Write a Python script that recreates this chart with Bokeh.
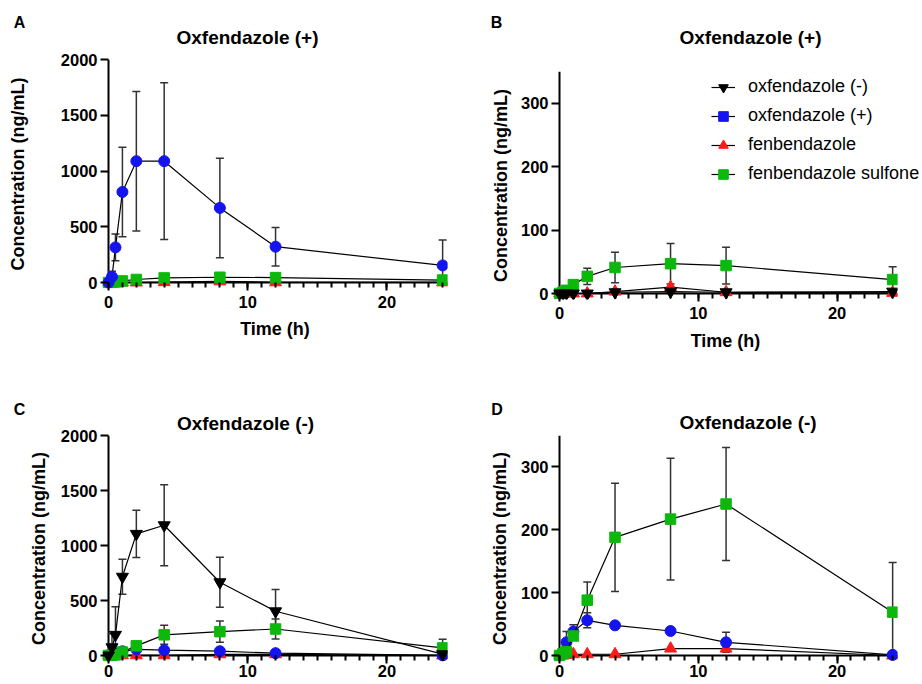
from bokeh.plotting import figure
from bokeh.models import (ColumnDataSource, Whisker, TeeHead, Span, Label, Legend,
                          LegendItem, FixedTicker, SingleIntervalTicker, Range1d)
from bokeh.layouts import column, row
from bokeh.embed import file_html
from bokeh.resources import INLINE

# ---------------- data ----------------
time_h = [0, 0.25, 0.5, 1, 2, 4, 8, 12, 24]

# Oxfendazole (+) administered  (panels A and B)
plus_oxf_plus_mean = [0, 51, 315, 812, 1088, 1088, 669, 321, 153]
plus_oxf_plus_sd = [0, 50, 120, 401, 626, 703, 446, 172, 228]
plus_oxf_minus_mean = [0, 0, 0, 0, 0, 2, 3, 2, 3]
plus_oxf_minus_sd = [0, 0, 0, 0, 0, 0, 0, 0, 0]
plus_fbz_mean = [0, 0, 0, 0, 0, 3, 10, 2, 1]
plus_fbz_sd = [0, 0, 0, 0, 0, 0, 0, 0, 0]
plus_fbzso2_mean = [0, 2, 5, 14, 27, 41, 47, 44, 22]
plus_fbzso2_sd = [0, 0, 0, 0, 13, 24, 32, 29, 20]

# Oxfendazole (-) administered  (panels C and D)
minus_oxf_minus_mean = [0, 75, 188, 716, 1106, 1184, 666, 402, 12]
minus_oxf_minus_sd = [0, 122, 255, 160, 214, 368, 227, 198, 0]
minus_oxf_plus_mean = [0, 3, 21, 38, 56, 48, 39, 21, 1]
minus_oxf_plus_sd = [0, 0, 17, 11, 12, 0, 0, 16, 0]
minus_fbz_mean = [0, 0, 1, 2, 2, 2, 11, 11, 0]
minus_fbz_sd = [0, 0, 0, 0, 0, 0, 0, 0, 0]
minus_fbzso2_mean = [0, 3, 6, 31, 88, 188, 217, 241, 69]
minus_fbzso2_sd = [0, 0, 0, 0, 29, 86, 97, 90, 79]

series_names = ["oxfendazole (-)", "oxfendazole (+)", "fenbendazole", "fenbendazole sulfone"]
y_ticks_full = [0, 500, 1000, 1500, 2000]
y_ticks_zoom = [0, 100, 200, 300]
y_max_full = 2000
y_max_zoom = 350
x_major_interval = 10
panel_titles = ["Oxfendazole (+)", "Oxfendazole (+)", "Oxfendazole (-)", "Oxfendazole (-)"]
panel_letters = ["A", "B", "C", "D"]
y_axis_label = "Concentration (ng/mL)"
x_axis_label = "Time (h)"

# ---------------- styling ----------------
FONT = "Liberation Sans"
PAD = 6          # px between the zero lines and the frame edges
X_END = 24.35    # right end of x axis (data units)
PAGE_W, PAGE_H = 922, 684

STYLE = {
    "oxfendazole (-)": dict(color="black", marker="inverted_triangle", size=12, legend_marker="inverted_triangle"),
    "oxfendazole (+)": dict(color="#1414ee", marker="circle", size=11, legend_marker="square"),
    "fenbendazole": dict(color="#ff1a1a", marker="triangle", size=12, legend_marker="triangle"),
    "fenbendazole sulfone": dict(color="#0cb80c", marker="square", size=10.5, legend_marker="square"),
}


def make_panel(size, borders, ymax, yticks, series, order, ylab_standoff,
               with_xlabel, xtick_standoff, xlab_standoff=5):
    w, h = size
    bl, br, bt, bb = borders
    frame_w = w - bl - br
    frame_h = h - bt - bb
    sx = (frame_w - PAD) / X_END
    sy = (frame_h - PAD) / ymax
    p = figure(width=w, height=h, min_border_left=bl, min_border_right=br,
               min_border_top=bt, min_border_bottom=bb,
               x_range=Range1d(-PAD / sx, X_END), y_range=Range1d(-PAD / sy, ymax),
               output_backend="svg", toolbar_location=None, tools="")
    p.outline_line_color = None
    p.grid.visible = False
    p.background_fill_color = "white"

    xa = p.xaxis[0]
    ya = p.yaxis[0]
    xa.ticker = SingleIntervalTicker(interval=x_major_interval, num_minor_ticks=10)
    ya.ticker = FixedTicker(ticks=yticks, minor_ticks=[])
    for ax in (xa, ya):
        ax.axis_line_color = None
        ax.major_tick_line_color = "black"
        ax.major_tick_line_width = 2
        ax.minor_tick_line_color = "black"
        ax.minor_tick_line_width = 2
        ax.major_tick_in = PAD
        ax.major_tick_out = 2
        ax.major_label_text_font = FONT
        ax.major_label_text_font_style = "bold"
        ax.major_label_text_font_size = "16.5px"
        ax.major_label_text_color = "black"
        ax.axis_label_text_font = FONT
        ax.axis_label_text_font_style = "bold"
        ax.axis_label_text_font_size = "18px"
        ax.axis_label_text_color = "black"
    xa.minor_tick_in = PAD
    xa.minor_tick_out = -1
    ya.minor_tick_line_color = None
    xa.major_label_standoff = xtick_standoff
    ya.major_label_standoff = 3
    ya.axis_label = y_axis_label
    ya.axis_label_standoff = ylab_standoff
    if with_xlabel:
        xa.axis_label = x_axis_label
        xa.axis_label_standoff = xlab_standoff

    p.add_layout(Span(location=0, dimension="width", line_color="black", line_width=2, level="underlay"))
    p.add_layout(Span(location=0, dimension="height", line_color="black", line_width=2, level="underlay"))

    for name in order:
        mean, sd = series[name]
        st = STYLE[name]
        xs = [t for t, s in zip(time_h, sd) if s > 0]
        hi = [m + s for m, s in zip(mean, sd) if s > 0]
        lo = [max(m - s, 0) for m, s in zip(mean, sd) if s > 0]
        if xs:
            wsrc = ColumnDataSource(dict(x=xs, lo=lo, hi=hi))
            p.add_layout(Whisker(source=wsrc, base="x", upper="hi", lower="lo", dimension="height",
                                 line_color="#333333", line_width=1.5,
                                 upper_head=TeeHead(size=8, line_color="#333333", line_width=1.5),
                                 lower_head=TeeHead(size=8, line_color="#333333", line_width=1.5)))
        src = ColumnDataSource(dict(x=time_h, y=mean))
        p.line("x", "y", source=src, line_color="black", line_width=1.2)
        p.scatter("x", "y", source=src, marker=st["marker"], size=st["size"],
                  fill_color=st["color"], line_color=st["color"])
    return p


plus_series = {
    "oxfendazole (-)": (plus_oxf_minus_mean, plus_oxf_minus_sd),
    "oxfendazole (+)": (plus_oxf_plus_mean, plus_oxf_plus_sd),
    "fenbendazole": (plus_fbz_mean, plus_fbz_sd),
    "fenbendazole sulfone": (plus_fbzso2_mean, plus_fbzso2_sd),
}
minus_series = {
    "oxfendazole (-)": (minus_oxf_minus_mean, minus_oxf_minus_sd),
    "oxfendazole (+)": (minus_oxf_plus_mean, minus_oxf_plus_sd),
    "fenbendazole": (minus_fbz_mean, minus_fbz_sd),
    "fenbendazole sulfone": (minus_fbzso2_mean, minus_fbzso2_sd),
}

pA = make_panel((461, 350), (102, 14, 59, 62), y_max_full, y_ticks_full, plus_series,
                ["fenbendazole", "fenbendazole sulfone", "oxfendazole (+)"], 30, True, 5, 8)
pB = make_panel((461, 355), (92, 25, 71, 56), y_max_zoom, y_ticks_zoom, plus_series,
                ["fenbendazole", "fenbendazole sulfone", "oxfendazole (-)"], 7, True, 5, 9)
pC = make_panel((461, 334), (102, 14, 85, 23), y_max_full, y_ticks_full, minus_series,
                ["fenbendazole", "oxfendazole (+)", "fenbendazole sulfone", "oxfendazole (-)"], 9, False, 1)
pD = make_panel((461, 329), (92, 25, 80, 23), y_max_zoom, y_ticks_zoom, minus_series,
                ["fenbendazole", "oxfendazole (+)", "fenbendazole sulfone"], 8, False, 1)

# ---------------- transparent overlay for panel titles, letters and legend ----------------
ov = figure(width=PAGE_W, height=PAGE_H, x_range=Range1d(0, PAGE_W), y_range=Range1d(PAGE_H, 0),
            min_border=0, x_axis_location=None, y_axis_location=None,
            output_backend="svg", toolbar_location=None, tools="")
ov.grid.visible = False
ov.outline_line_color = None
ov.background_fill_color = None
ov.border_fill_color = None
ov.styles = {"position": "absolute", "left": "0px", "top": "0px", "z-index": "10"}

title_pos = [(247, 37), (750, 37), (245, 422.5), (747.5, 422)]
letter_pos = [(19, 22), (496, 22), (19, 408.5), (496.5, 408.5)]
for txt, (x, y) in zip(panel_titles, title_pos):
    ov.add_layout(Label(x=x, y=y, text=txt, text_align="center", text_baseline="middle",
                        text_font=FONT, text_font_size="19px", text_font_style="bold",
                        text_color="black"))
for txt, (x, y) in zip(panel_letters, letter_pos):
    ov.add_layout(Label(x=x, y=y, text=txt, text_align="center", text_baseline="middle",
                        text_font=FONT, text_font_size="16px", text_font_style="bold",
                        text_color="black"))

items = []
nan = float("nan")
for name in series_names:
    st = STYLE[name]
    lsrc = ColumnDataSource(dict(x=[nan], y=[nan]))
    ll = ov.line("x", "y", source=lsrc, line_color="black", line_width=1.2)
    ls = ov.scatter("x", "y", source=lsrc, marker=st["legend_marker"], size=st["size"],
                    fill_color=st["color"], line_color=st["color"])
    items.append(LegendItem(label=name, renderers=[ll, ls]))
gh, sp = 26, 3
legend_left, legend_top = 711, 73.5
total_h = len(items) * gh + (len(items) - 1) * sp
leg = Legend(items=items, location=(legend_left, PAGE_H - (legend_top + total_h)),
             border_line_color=None, background_fill_alpha=0,
             padding=0, margin=0, spacing=sp,
             glyph_height=gh, glyph_width=24, label_height=gh,
             label_standoff=13, label_text_font=FONT,
             label_text_font_size="18px", label_text_color="black")
ov.add_layout(leg)

layout = row(column(pA, pC), column(pB, pD))
open("out.html", "w").write(file_html([layout, ov], INLINE))
